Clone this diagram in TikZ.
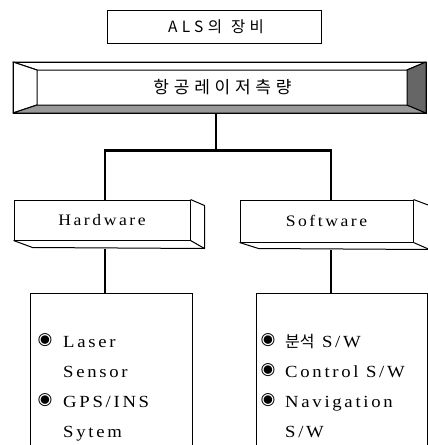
\documentclass[tikz,border=0pt]{standalone}
\usepackage{fontspec}
\setmainfont{Liberation Serif}[LetterSpace=16,FakeStretch=1.1]
\newfontfamily\kor{Noto Sans CJK KR}
\newfontfamily\korwide{Noto Sans CJK KR}[LetterSpace=28]
\newfontfamily\sym{DejaVu Sans}
\usetikzlibrary{positioning}
\tikzset{
  box/.style  = {draw, line width=1pt, inner sep=0pt},
  face/.style = {draw, line width=1pt, line join=round},
  link/.style = {line width=2.2pt},
  item/.style = {anchor=base west, inner sep=0pt,
                 font=\fontsize{17}{17}\selectfont},
  bul/.style  = {inner sep=0pt, font=\sym\fontsize{17}{17}\selectfont}
}

\begin{document}
\begin{tikzpicture}[x=1pt,y=-1pt]
	\def \dx{14}
	\def \dy{7}
	\def \row{30}

	\useasboundingbox (0,0) rectangle (428,445);
	\clip (0,0) rectangle (428,445);

	% Title
	\node[box, minimum width=214pt, minimum height=33pt,
	      font=\korwide\fontsize{15.5}{15.5}\selectfont] (als) at (214,26.5) {\hspace{4pt}ALS의\hspace{9pt}장비};

	% Bevel box
	\filldraw[face, fill=white]    (13,62) -- (426,62) -- (407,70) -- (37,70) -- cycle;     % top
	\filldraw[face, fill=white]    (13,62) -- (37,70) -- (37,105) -- (13,113) -- cycle;     % left
	\filldraw[face, fill=black!40] (13,113) -- (37,105) -- (407,105) -- (426,113) -- cycle; % bottom
	\filldraw[face, fill=black!60] (426,62) -- (407,70) -- (407,105) -- (426,113) -- cycle; % right
	\node[box, minimum width=413pt, minimum height=51pt,
	      font=\korwide\fontsize{17}{17}\selectfont] (bevel) at (219.5,87.5) {\hspace{6pt}항공레이저측량};

	% Hardware / Software
	\node[box, minimum width=176pt, minimum height=40pt,
	      font=\fontsize{16}{16}\selectfont] (hw) at (102,220) {Hardware};
	\node[box, minimum width=173pt, minimum height=42pt,
	      font=\fontsize{16}{16}\selectfont] (sw) at (326.5,221) {Software};

	\draw[face] (hw.north east) -- ++(\dx,6) -- ([shift={(\dx,8)}]hw.south east) -- (hw.south east);
	\draw[face] (hw.south west) -- ++(19,\dy) -- ([shift={(\dx,8)}]hw.south east);
	\draw[face] (sw.north east) -- ++(16,6) -- ([shift={(16,7)}]sw.south east) -- (sw.south east);
	\draw[face] (sw.south west) -- ++(19,6) -- ([shift={(16,7)}]sw.south east);

	% Links
	\draw[link] ([xshift=-3.5pt]bevel.south) -- ++(0,37) coordinate (fork);
	\draw[link] ([xshift=3pt]hw.north) |- (fork) -| ([xshift=4.5pt]sw.north);

	% Lists
	\node[box, minimum width=162pt, minimum height=170pt] (hwlist) at (111,378) {};
	\node[box, minimum width=171pt, minimum height=170pt] (swlist) at (341.5,378) {};

	\draw[link] ([shift={(3,8)}]hw.south) -- ([xshift=-6pt]hwlist.north);
	\draw[link] ([shift={(4.5,7)}]sw.south) -- ([xshift=-10.5pt]swlist.north);

	% Hardware items
	\node[bul]  (hwb1) at (45,340) {◉};
	\node[item] (hwt1) at (63,347) {Laser};
	\node[item] (hwt2) at (63,347+\row) {Sensor};
	\node[bul]  (hwb2) at (45,340+2*\row) {◉};
	\node[item] (hwt3) at (63,347+2*\row) {GPS/INS};
	\node[item] (hwt4) at (63,347+3*\row) {Sytem};

	% Software items
	\node[bul]  (swb1) at (268,340) {◉};
	\node[item] (swt1) at (285,347) {{\kor\fontsize{16}{16}\selectfont 분석}\ S/W};
	\node[bul]  (swb2) at (268,340+\row) {◉};
	\node[item] (swt2) at (285,347+\row) {Control S/W};
	\node[bul]  (swb3) at (268,340+2*\row) {◉};
	\node[item] (swt3) at (285,347+2*\row) {Navigation};
	\node[item] (swt4) at (285,347+3*\row) {S/W};

\end{tikzpicture}
\end{document}
